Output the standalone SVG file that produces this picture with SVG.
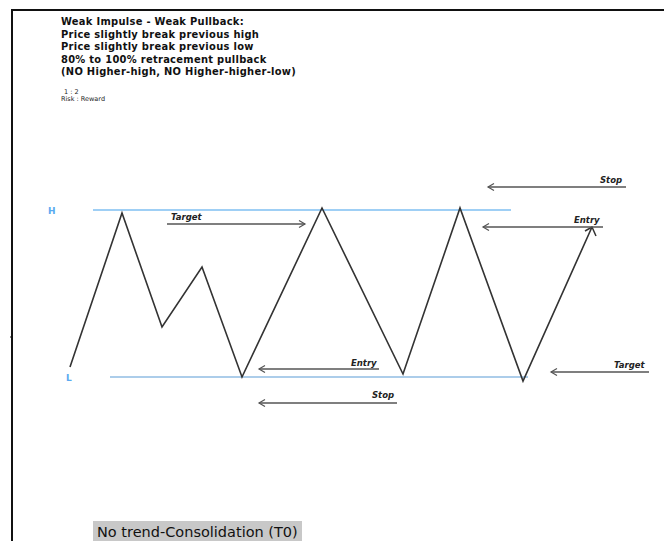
<svg xmlns="http://www.w3.org/2000/svg" width="664" height="541" viewBox="0 0 664 541">
<style>
.t{font-family:"DejaVu Sans Condensed","DejaVu Sans",sans-serif;font-weight:bold;font-size:11px;letter-spacing:0.3px;fill:#111}
.s{font-family:"DejaVu Sans",Verdana,sans-serif;font-size:6.5px;fill:#222}
.lbl{font-family:"DejaVu Sans",Verdana,sans-serif;font-weight:bold;font-style:italic;font-size:8.5px;fill:#222}
.hl{font-family:"DejaVu Sans",Verdana,sans-serif;font-weight:bold;font-size:9px;fill:#5aaaf0}
.arr{stroke:#555;stroke-width:1.3;fill:none}
.zz{stroke:#333;stroke-width:1.6;fill:none;stroke-linejoin:miter}
</style>
<defs>
<marker id="ah" markerWidth="10" markerHeight="10" refX="7" refY="4" orient="auto" markerUnits="userSpaceOnUse">
<path d="M1,0.5 L7,4 L1,7.5" fill="none" stroke="#555" stroke-width="1.2"/>
</marker>
</defs>
<rect width="664" height="541" fill="#fff"/>
<g id="frame">
<path d="M12,541 V10 H664" fill="none" stroke="#111" stroke-width="2"/>
<line x1="10" y1="337" x2="12" y2="337" stroke="#111" stroke-width="1"/>
</g>
<g id="title">
<text class="t" x="61" y="25">Weak Impulse - Weak Pullback:</text>
<text class="t" x="61" y="37.5">Price slightly break previous high</text>
<text class="t" x="61" y="50">Price slightly break previous low</text>
<text class="t" x="61" y="62.5">80% to 100% retracement pullback</text>
<text class="t" x="61" y="75">(NO Higher-high, NO Higher-higher-low)</text>
<text class="s" x="64" y="94">1 : 2</text>
<text class="s" x="61" y="101">Risk : Reward</text>
</g>
<g id="levels">
<line x1="93" y1="210" x2="511" y2="210" stroke="#9fcff5" stroke-width="2"/>
<text class="hl" x="48" y="214">H</text>
<line x1="110" y1="377" x2="528" y2="377" stroke="#5b9bd5" stroke-width="1.2"/>
<text class="hl" x="66" y="381">L</text>
</g>
<g id="price">
<polyline class="zz" points="70,367 122,213 162,327 202,267 242,377 322,208 403,374 460,208 523,381 592,227"/>
<path d="M585,231 L592,227 L596,236" fill="none" stroke="#333" stroke-width="1.5"/>
</g>
<g id="connectors">
<line class="arr" x1="167" y1="224" x2="305" y2="224" marker-end="url(#ah)"/>
<line class="arr" x1="626" y1="187" x2="488" y2="187" marker-end="url(#ah)"/>
<line class="arr" x1="603" y1="227" x2="483" y2="227" marker-end="url(#ah)" stroke="#333"/>
<line class="arr" x1="379" y1="369" x2="259" y2="369" marker-end="url(#ah)"/>
<line class="arr" x1="397" y1="403" x2="259" y2="403" marker-end="url(#ah)"/>
<line class="arr" x1="649" y1="372" x2="551" y2="372" marker-end="url(#ah)"/>
</g>
<g id="labels">
<text class="lbl" x="171" y="220">Target</text>
<text class="lbl" x="600" y="183">Stop</text>
<text class="lbl" x="574" y="223">Entry</text>
<text class="lbl" x="351" y="366">Entry</text>
<text class="lbl" x="372" y="398">Stop</text>
<text class="lbl" x="614" y="368">Target</text>
</g>
<g id="footer">
<rect x="93" y="521" width="209" height="20" fill="#c8c8c8"/>
<text x="97" y="537" font-family="DejaVu Sans,Verdana,sans-serif" font-size="14.5" fill="#111">No trend-Consolidation (T0)</text>
</g>
</svg>
